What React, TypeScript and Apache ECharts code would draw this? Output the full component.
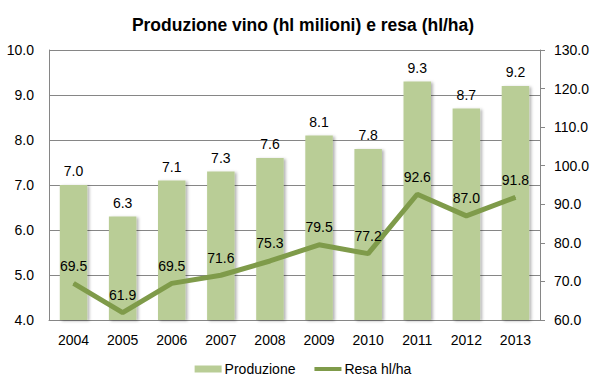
import React, { useEffect, useRef } from "react";
import * as echarts from "echarts";

const years = ["2004", "2005", "2006", "2007", "2008", "2009", "2010", "2011", "2012", "2013"];
const produzione = [7.0, 6.3, 7.1, 7.3, 7.6, 8.1, 7.8, 9.3, 8.7, 9.2];
const resa = [69.5, 61.9, 69.5, 71.6, 75.3, 79.5, 77.2, 92.6, 87.0, 91.8];

export default function App() {
  const ref = useRef<HTMLDivElement>(null);
  useEffect(() => {
    document.body.style.margin = "0";
    if (!ref.current) return;
    const chart = echarts.init(ref.current, null, { renderer: "svg" });
    const font = "'Liberation Sans', Arial, sans-serif";
    chart.setOption({
      animation: false,
      textStyle: { fontFamily: font },
      title: {
        text: "Produzione vino (hl milioni) e resa (hl/ha)",
        left: "center",
        top: 11,
        textStyle: { fontSize: 17.5, fontWeight: "bold", color: "#000", fontFamily: font },
      },
      grid: { left: 49, right: 66, top: 50, bottom: 67 },
      legend: {
        top: 357,
        left: "center",
        itemGap: 17,
        itemWidth: 27,
        itemHeight: 7,
        textStyle: { fontSize: 14, color: "#000", fontFamily: font, padding: [0, 0, 0, -2] },
        data: [
          { name: "Produzione", icon: "rect" },
          { name: "Resa hl/ha", itemStyle: { opacity: 0 }, lineStyle: { width: 4 } },
        ],
      },
      xAxis: {
        type: "category",
        data: years,
        axisLine: { lineStyle: { color: "#868686" } },
        axisTick: { show: false },
        axisLabel: { color: "#000", fontSize: 14, margin: 13 },
      },
      yAxis: [
        {
          type: "value",
          min: 4,
          max: 10,
          interval: 1,
          axisLine: { show: true, lineStyle: { color: "#868686" } },
          axisTick: { show: false },
          splitLine: { lineStyle: { color: "#868686" } },
          axisLabel: { color: "#000", fontSize: 14, formatter: (v: number) => v.toFixed(1), margin: 15 },
        },
        {
          type: "value",
          min: 60,
          max: 130,
          interval: 10,
          position: "right",
          axisLine: { show: true, lineStyle: { color: "#868686" } },
          axisTick: { show: true, length: 5, lineStyle: { color: "#868686" } },
          splitLine: { show: false },
          axisLabel: { color: "#000", fontSize: 14, formatter: (v: number) => v.toFixed(1), margin: 14 },
        },
      ],
      series: [
        {
          name: "Produzione",
          type: "bar",
          data: produzione,
          barWidth: "56%",
          itemStyle: {
            color: "#B9CD96",
            shadowColor: "rgba(0,0,0,0.3)",
            shadowBlur: 3,
            shadowOffsetX: 2,
            shadowOffsetY: 1,
          },
          label: {
            show: true,
            position: "top",
            distance: 7,
            color: "#000",
            fontSize: 14,
            formatter: (p: any) => Number(p.value).toFixed(1),
          },
        },
        {
          name: "Resa hl/ha",
          type: "line",
          yAxisIndex: 1,
          data: resa,
          symbol: "circle",
          symbolSize: 1,
          showSymbol: true,
          lineStyle: { color: "#7F9B4A", width: 5 },
          itemStyle: { color: "#7F9B4A" },
          label: {
            show: true,
            position: "top",
            distance: 10,
            color: "#000",
            fontSize: 14,
            formatter: (p: any) => Number(p.value).toFixed(1),
          },
          labelLayout: { hideOverlap: false },
        },
      ],
    });
    return () => chart.dispose();
  }, []);
  return <div ref={ref} style={{ width: 606, height: 387 }} />;
}
